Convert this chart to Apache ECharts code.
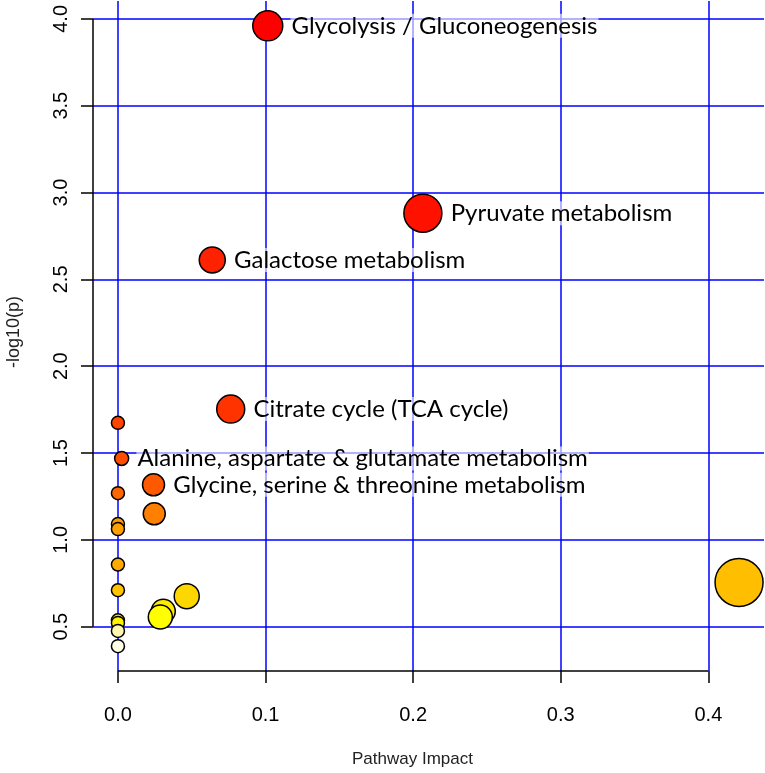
<!DOCTYPE html>
<html>
<head>
<meta charset="utf-8">
<title>Pathway Impact</title>
<script src="https://cdn.jsdelivr.net/npm/echarts@6.0.0/dist/echarts.min.js"></script>
<style>
    html, body { margin: 0; padding: 0; background: #fff; }
    #chart { width: 765px; height: 773px; }
</style>
</head>
<body>
<div id="chart"></div>
<script>
// pathway data
const pathwayNames = [
    'Glycolysis / Gluconeogenesis', 'Pyruvate metabolism', 'Galactose metabolism',
    'Citrate cycle (TCA cycle)', 'Alanine, aspartate & glutamate metabolism',
    'Glycine, serine & threonine metabolism', '', '', '', '', '', '', '', '', '',
    '', '', '', '', '', ''
];
const impact = [0.1015, 0.2066, 0.0639, 0.0764, 0.0025, 0.0241, 0.0246, 0, 0, 0, 0,
    0, 0.4208, 0, 0.0466, 0.0307, 0.0287, 0, 0, 0, 0];
const logP = [3.960, 2.881, 2.612, 1.753, 1.469, 1.317, 1.150, 1.674, 1.269, 1.091, 1.062,
    0.858, 0.755, 0.710, 0.676, 0.589, 0.556, 0.537, 0.522, 0.476, 0.388];
const pointSize = [30, 38, 26, 28, 14, 22, 22, 13, 13, 13, 13,
    13, 48, 13, 25, 24, 24, 13, 13, 13, 13];
const pointColor = ['#FF0000', '#FF1100', '#FF2200', '#FF3300', '#FF4C00', '#FF5900',
    '#FF7F00', '#FF4400', '#FF6600', '#FF9900', '#FFA000', '#FFAA00', '#FFBF00',
    '#FFC200', '#FFD700', '#FFEA00', '#FFFF00', '#FFE500', '#FFF200', '#FFF7B0', '#FFFDE6'];

const xTicks = [0, 0.1, 0.2, 0.3, 0.4];
const yTicks = [0.5, 1.0, 1.5, 2.0, 2.5, 3.0, 3.5, 4.0];

// plot region limits (R style, padded 4%)
const xMin = -0.0169, xMax = 0.4377;
const yMin = 0.245, yMax = 4.103;

(function () {
    let myChart = echarts.init(document.getElementById('chart'));

    let points = impact.map(function (v, i) {
        return {
            name: pathwayNames[i],
            value: [v, logP[i]],
            symbolSize: pointSize[i],
            itemStyle: { color: pointColor[i] },
            label: { show: pathwayNames[i] !== '' }
        };
    });

    let gridLines = xTicks.map(function (v) { return { xAxis: v }; })
        .concat(yTicks.map(function (v) { return { yAxis: v }; }));

    let axisLines = [
        [{ coord: [xMin, yTicks[0]] }, { coord: [xMin, yTicks[yTicks.length - 1]] }],
        [{ coord: [xTicks[0], yMin] }, { coord: [xTicks[xTicks.length - 1], yMin] }]
    ];

    let option = {
        animation: false,
        backgroundColor: '#fff',
        grid: {
            left: 93,
            right: 1,
            top: 1,
            bottom: 102,
            outerBoundsMode: 'none'
        },
        xAxis: {
            type: 'value',
            min: xMin,
            max: xMax,
            name: 'Pathway Impact',
            nameLocation: 'middle',
            nameGap: 80,
            nameTextStyle: {
                fontFamily: 'Liberation Sans',
                fontSize: 17,
                color: '#222',
                padding: [0, 32, 0, 0]
            },
            axisLine: { show: false, onZero: false },
            axisTick: {
                show: true,
                length: 12,
                customValues: xTicks,
                lineStyle: { color: '#000', width: 1.5 }
            },
            axisLabel: {
                margin: 34,
                customValues: xTicks,
                fontFamily: 'Liberation Sans',
                fontSize: 20,
                color: '#000',
                formatter: function (v) { return v.toFixed(1); }
            },
            splitLine: { show: false }
        },
        yAxis: {
            type: 'value',
            min: yMin,
            max: yMax,
            name: '-log10(p)',
            nameLocation: 'middle',
            nameGap: 70,
            nameTextStyle: {
                fontFamily: 'Liberation Sans',
                fontSize: 18,
                color: '#222',
                padding: [0, 0, 0, 8]
            },
            axisLine: { show: false, onZero: false },
            axisTick: {
                show: true,
                length: 12,
                customValues: yTicks,
                lineStyle: { color: '#000', width: 1.5 }
            },
            axisLabel: {
                margin: 22,
                rotate: 90,
                customValues: yTicks,
                fontFamily: 'Liberation Sans',
                fontSize: 20,
                color: '#000',
                formatter: function (v) { return v.toFixed(1); }
            },
            splitLine: { show: false }
        },
        series: [{
            // blue grid lines
            type: 'scatter',
            data: [],
            silent: true,
            z: 0,
            markLine: {
                silent: true,
                z: 0,
                symbol: ['none', 'none'],
                label: { show: false },
                lineStyle: { color: '#0000FF', width: 1.5, type: 'solid' },
                data: gridLines
            }
        }, {
            // R style axis lines, first tick to last tick
            type: 'scatter',
            data: [],
            silent: true,
            clip: false,
            z: 1,
            markLine: {
                silent: true,
                z: 1,
                symbol: ['none', 'none'],
                label: { show: false },
                lineStyle: { color: '#000', width: 1.5, type: 'solid' },
                data: axisLines
            }
        }, {
            name: 'pathways',
            type: 'scatter',
            z: 3,
            data: points,
            itemStyle: {
                borderColor: '#000',
                borderWidth: 1.5,
                opacity: 1
            },
            label: {
                position: 'right',
                distance: 7,
                formatter: '{b}',
                fontFamily: 'Lato',
                fontSize: 24,
                color: '#000',
                backgroundColor: 'rgba(255,255,255,0.6)',
                padding: [0, 1]
            },
            emphasis: { disabled: true }
        }]
    };
    myChart.setOption(option);
    window.addEventListener('resize', function () {
        myChart.resize();
    });
})();
</script>
</body>
</html>
